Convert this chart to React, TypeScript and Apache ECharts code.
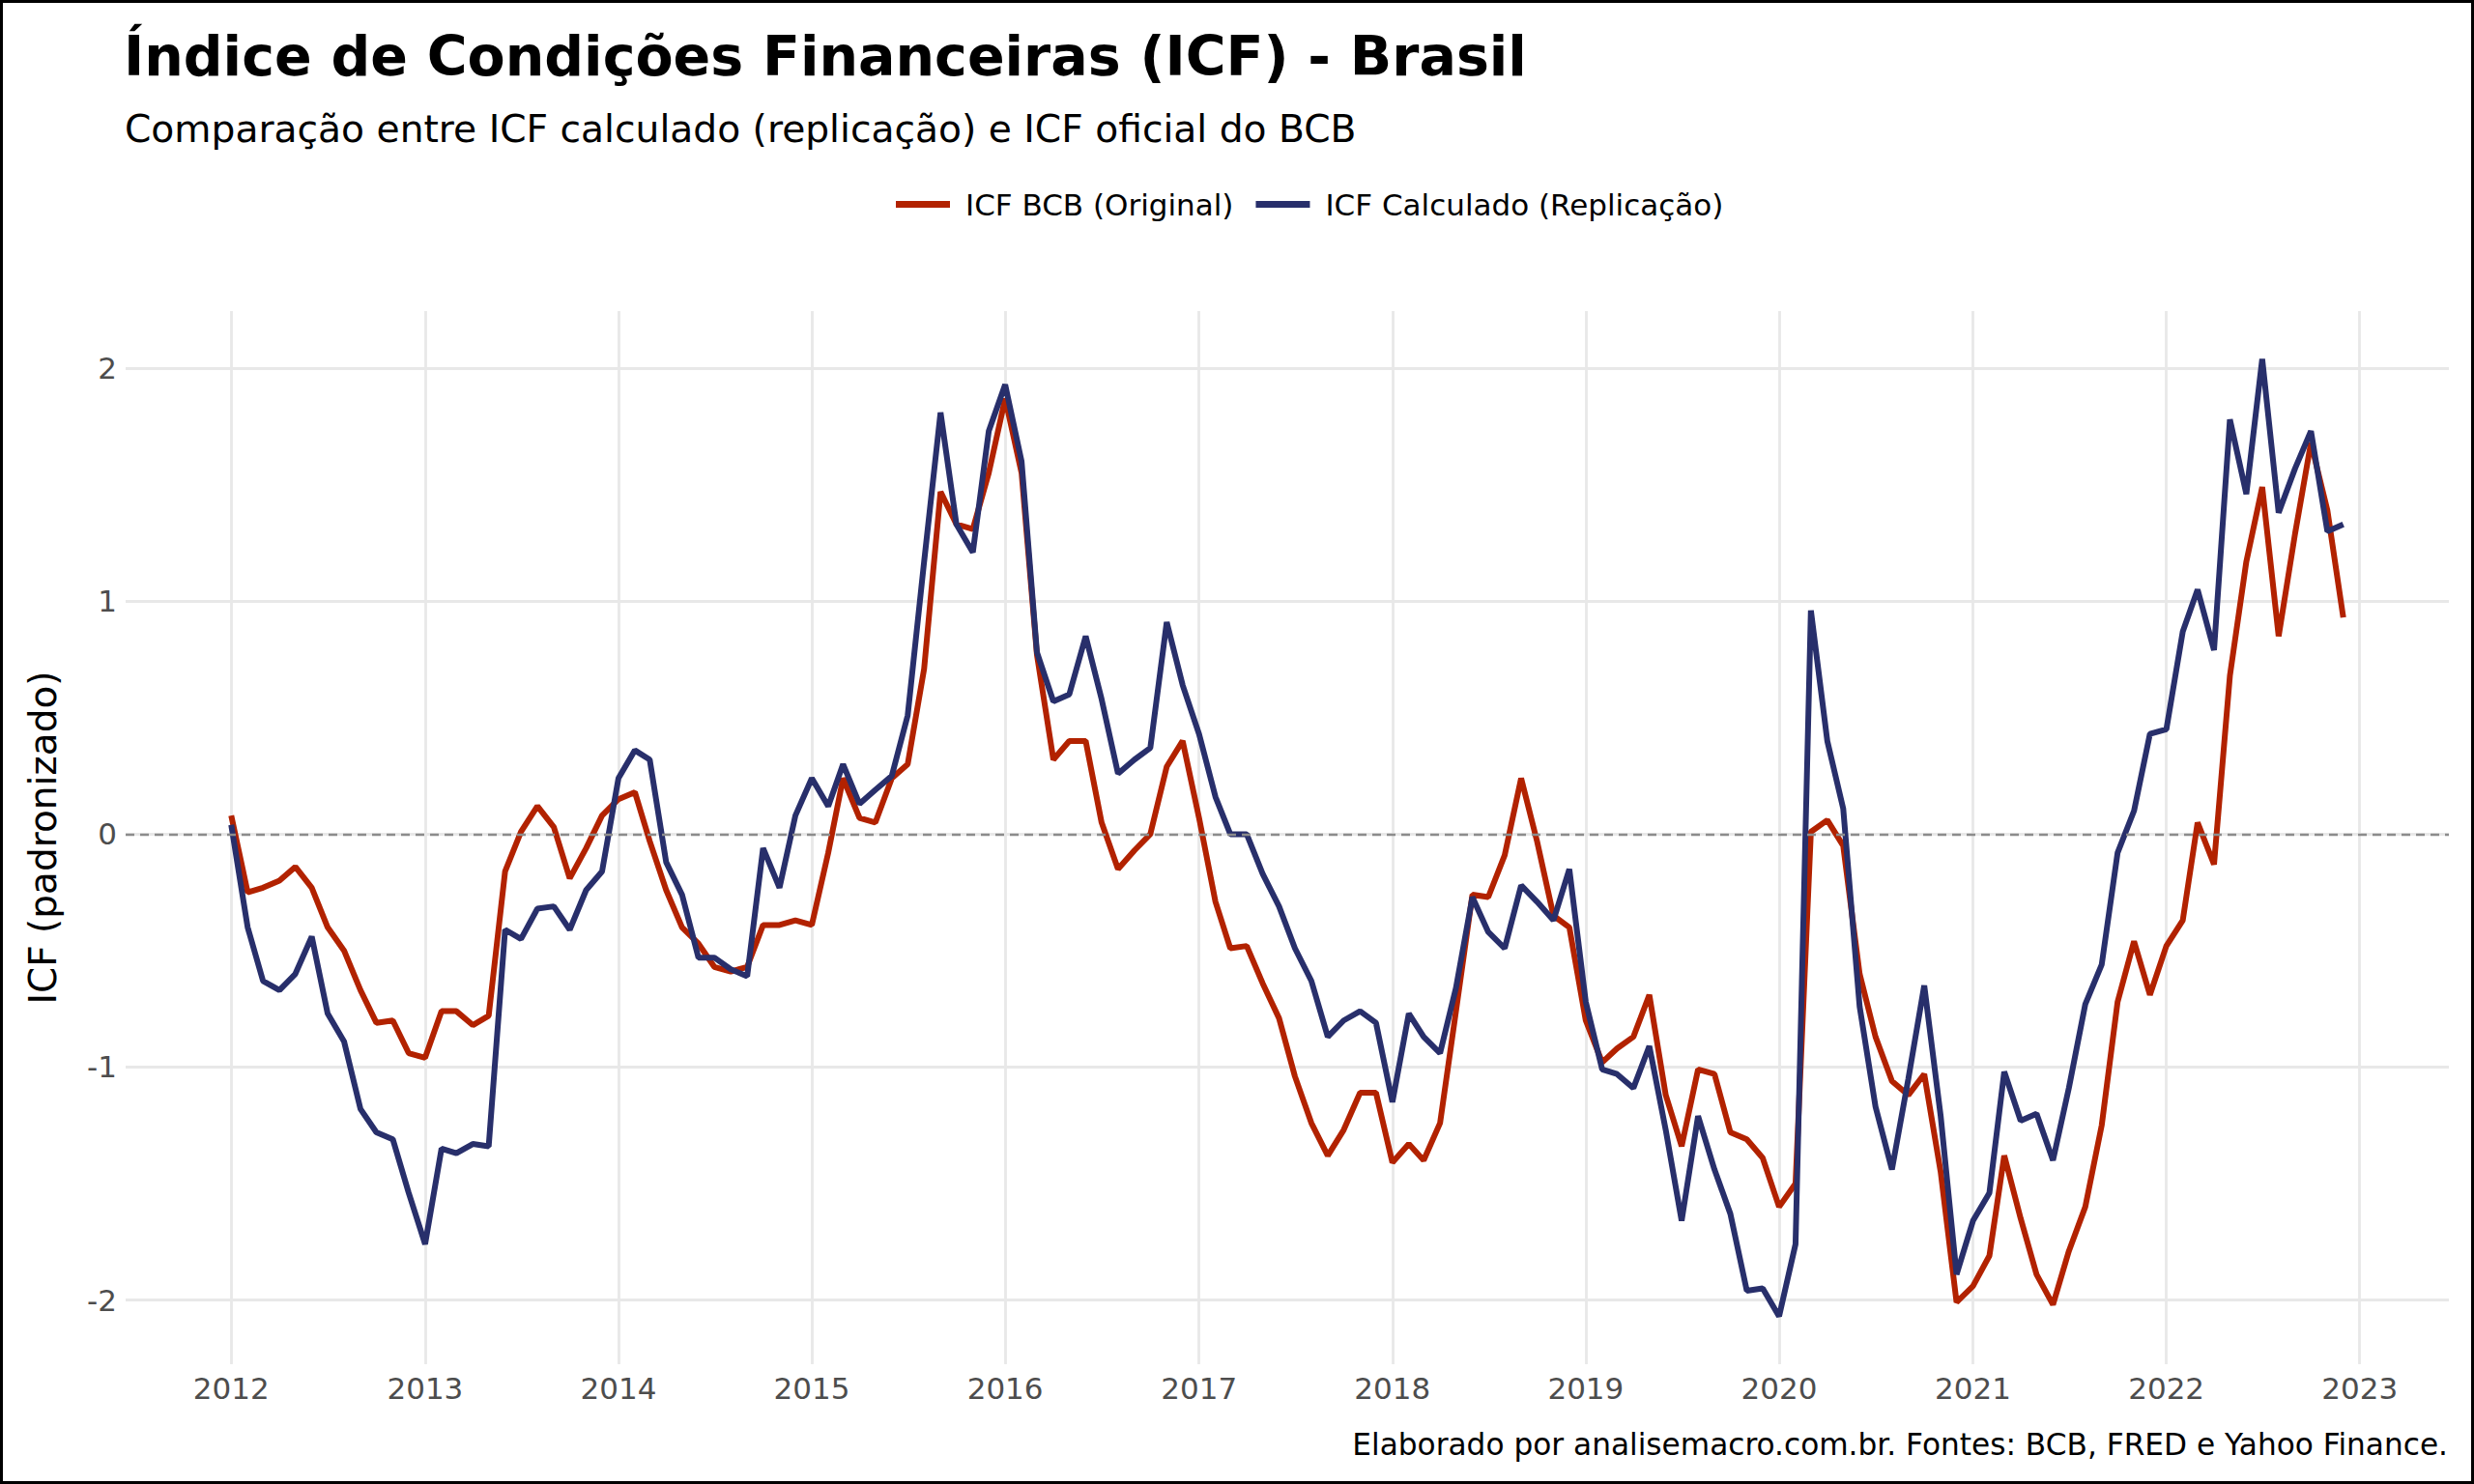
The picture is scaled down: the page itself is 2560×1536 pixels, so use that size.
import React, { useEffect, useRef } from "react";
import * as echarts from "echarts";

// Monthly observations, Jan 2012 .. Dec 2022
const firstYear = 2012;
const lastYear = 2022;

const icfBCB = [
  0.08, -0.25, -0.23, -0.2, -0.14, -0.23, -0.4, -0.5, -0.67, -0.81, -0.8, -0.94,
  -0.96, -0.76, -0.76, -0.82, -0.78, -0.16, 0.01, 0.12, 0.03, -0.19, -0.06, 0.08,
  0.15, 0.18, -0.03, -0.24, -0.4, -0.47, -0.57, -0.59, -0.57, -0.39, -0.39, -0.37,
  -0.39, -0.08, 0.24, 0.07, 0.05, 0.24, 0.3, 0.71, 1.47, 1.33, 1.31, 1.55,
  1.87, 1.55, 0.77, 0.32, 0.4, 0.4, 0.05, -0.15, -0.07, 0.0, 0.29, 0.4,
  0.07, -0.29, -0.49, -0.48, -0.64, -0.79, -1.04, -1.24, -1.38, -1.27, -1.11, -1.11,
  -1.41, -1.33, -1.4, -1.24, -0.76, -0.26, -0.27, -0.09, 0.24, -0.03, -0.35, -0.4,
  -0.8, -0.98, -0.92, -0.87, -0.69, -1.12, -1.34, -1.01, -1.03, -1.28, -1.31, -1.39,
  -1.6, -1.5, 0.01, 0.06, -0.05, -0.6, -0.87, -1.06, -1.12, -1.03, -1.45, -2.01,
  -1.94, -1.81, -1.38, -1.65, -1.89, -2.02, -1.79, -1.6, -1.25, -0.72, -0.46, -0.69,
  -0.48, -0.37, 0.05, -0.13, 0.68, 1.17, 1.49, 0.85, 1.29, 1.68, 1.39, 0.93,
];

const icfCalculado = [
  0.04, -0.4, -0.63, -0.67, -0.6, -0.44, -0.77, -0.89, -1.18, -1.28, -1.31, -1.54,
  -1.76, -1.35, -1.37, -1.33, -1.34, -0.41, -0.45, -0.32, -0.31, -0.41, -0.24, -0.16,
  0.24, 0.36, 0.32, -0.12, -0.26, -0.53, -0.53, -0.58, -0.61, -0.06, -0.23, 0.08,
  0.24, 0.12, 0.3, 0.13, 0.19, 0.25, 0.51, 1.17, 1.81, 1.33, 1.21, 1.73,
  1.93, 1.6, 0.78, 0.57, 0.6, 0.85, 0.58, 0.26, 0.32, 0.37, 0.91, 0.64,
  0.43, 0.16, 0.0, 0.0, -0.17, -0.31, -0.49, -0.63, -0.87, -0.8, -0.76, -0.81,
  -1.15, -0.77, -0.87, -0.94, -0.66, -0.27, -0.42, -0.49, -0.22, -0.29, -0.37, -0.15,
  -0.72, -1.01, -1.03, -1.09, -0.91, -1.27, -1.66, -1.21, -1.44, -1.63, -1.96, -1.95,
  -2.07, -1.76, 0.96, 0.4, 0.11, -0.74, -1.17, -1.44, -1.05, -0.65, -1.21, -1.89,
  -1.66, -1.54, -1.02, -1.23, -1.2, -1.4, -1.09, -0.73, -0.56, -0.08, 0.1, 0.43,
  0.45, 0.87, 1.05, 0.79, 1.78, 1.46, 2.04, 1.38, 1.57, 1.73, 1.3, 1.33,
];

const yTickValues = [-2, -1, 0, 1, 2];
const xTickYears = [2012, 2013, 2014, 2015, 2016, 2017, 2018, 2019, 2020, 2021, 2022, 2023];

const seriesNames = ["ICF BCB (Original)", "ICF Calculado (Replicação)"];
const seriesColors = ["#b22200", "#282f6b"];

const titleText = "Índice de Condições Financeiras (ICF) - Brasil";
const subtitleText = "Comparação entre ICF calculado (replicação) e ICF oficial do BCB";
const yTitleText = "ICF (padronizado)";
const captionText = "Elaborado por analisemacro.com.br. Fontes: BCB, FRED e Yahoo Finance.";

const FONT = "'DejaVu Sans', 'Noto Sans', sans-serif";

function buildMonths(): number[] {
  const out: number[] = [];
  for (let y = firstYear; y <= lastYear; y++) {
    for (let m = 0; m < 12; m++) out.push(Date.UTC(y, m, 1));
  }
  return out;
}

export default function App() {
  const ref = useRef<HTMLDivElement>(null);

  useEffect(() => {
    if (!ref.current) return;
    const chart = echarts.init(ref.current, null, { renderer: "svg" });

    const months = buildMonths();
    const tMin = months[0];
    const tMax = months[months.length - 1];
    const tPad = (tMax - tMin) * 0.05;

    const all = icfBCB.concat(icfCalculado);
    const vMin = Math.min(...all);
    const vMax = Math.max(...all);
    const vPad = (vMax - vMin) * 0.05;

    const yearTicks = xTickYears.map((y) => Date.UTC(y, 0, 1));

    const option: any = {
      animation: false,
      backgroundColor: "#ffffff",
      textStyle: { fontFamily: FONT },
      grid: {
        left: 130,
        top: 322,
        width: 2404,
        height: 1090,
        containLabel: false,
        outerBoundsMode: "none",
      },
      legend: {
        data: seriesNames,
        left: 927,
        top: 196,
        icon: "rect",
        itemWidth: 56,
        itemHeight: 7,
        itemGap: 23,
        padding: 0,
        textStyle: {
          fontFamily: FONT,
          fontSize: 31,
          color: "#000000",
          padding: [0, 0, 0, 11],
        },
      },
      xAxis: {
        type: "value",
        min: tMin - tPad,
        max: tMax + tPad,
        axisLine: { show: false },
        axisTick: { show: false, customValues: yearTicks },
        axisLabel: {
          customValues: yearTicks,
          formatter: (v: number) => String(new Date(v).getUTCFullYear()),
          color: "#4d4d4d",
          fontFamily: FONT,
          fontSize: 31,
          margin: 9,
          showMinLabel: true,
          showMaxLabel: true,
        },
        splitLine: { show: true, lineStyle: { color: "#e8e8e8", width: 2.8 } },
      },
      yAxis: {
        type: "value",
        min: vMin - vPad,
        max: vMax + vPad,
        axisLine: { show: false },
        axisTick: { show: false, customValues: yTickValues },
        axisLabel: {
          customValues: yTickValues,
          formatter: (v: number) => String(v),
          color: "#4d4d4d",
          fontFamily: FONT,
          fontSize: 31,
          margin: 9,
        },
        splitLine: { show: true, lineStyle: { color: "#e8e8e8", width: 2.8 } },
      },
      series: [
        {
          name: "zero",
          type: "line",
          data: [],
          z: 1,
          silent: true,
          markLine: {
            silent: true,
            symbol: "none",
            label: { show: false },
            lineStyle: { color: "#8c8c8c", width: 2.4, type: [9, 6] },
            data: [{ yAxis: 0 }],
          },
        },
        {
          name: seriesNames[0],
          type: "line",
          z: 3,
          showSymbol: false,
          data: months.map((t, i) => [t, icfBCB[i]]),
          color: seriesColors[0],
          lineStyle: { color: seriesColors[0], width: 6 },
          itemStyle: { color: seriesColors[0] },
        },
        {
          name: seriesNames[1],
          type: "line",
          z: 4,
          showSymbol: false,
          data: months.map((t, i) => [t, icfCalculado[i]]),
          color: seriesColors[1],
          lineStyle: { color: seriesColors[1], width: 6 },
          itemStyle: { color: seriesColors[1] },
        },
      ],
      graphic: [
        {
          type: "text",
          x: 128,
          y: 58,
          silent: true,
          style: {
            text: titleText,
            fontFamily: FONT,
            fontWeight: "bold",
            fontSize: 57,
            fill: "#000000",
            align: "left",
            verticalAlign: "middle",
          },
        },
        {
          type: "text",
          x: 129,
          y: 133,
          silent: true,
          style: {
            text: subtitleText,
            fontFamily: FONT,
            fontSize: 39.2,
            fill: "#000000",
            align: "left",
            verticalAlign: "middle",
          },
        },
        {
          type: "text",
          x: 44,
          y: 867,
          rotation: Math.PI / 2,
          silent: true,
          style: {
            text: yTitleText,
            fontFamily: FONT,
            fontSize: 39,
            fill: "#000000",
            align: "center",
            verticalAlign: "middle",
          },
        },
        {
          type: "text",
          x: 2533,
          y: 1495,
          silent: true,
          style: {
            text: captionText,
            fontFamily: FONT,
            fontSize: 31.2,
            fill: "#000000",
            align: "right",
            verticalAlign: "middle",
          },
        },
        {
          type: "rect",
          silent: true,
          shape: { x: 1.5, y: 1.5, width: 2557, height: 1533 },
          style: { fill: "none", stroke: "#000000", lineWidth: 3 },
        },
      ],
    };

    chart.setOption(option);
    return () => chart.dispose();
  }, []);

  return (
    <div
      ref={ref}
      style={{
        position: "absolute",
        left: 0,
        top: 0,
        width: 2560,
        height: 1536,
        background: "#ffffff",
      }}
    />
  );
}
